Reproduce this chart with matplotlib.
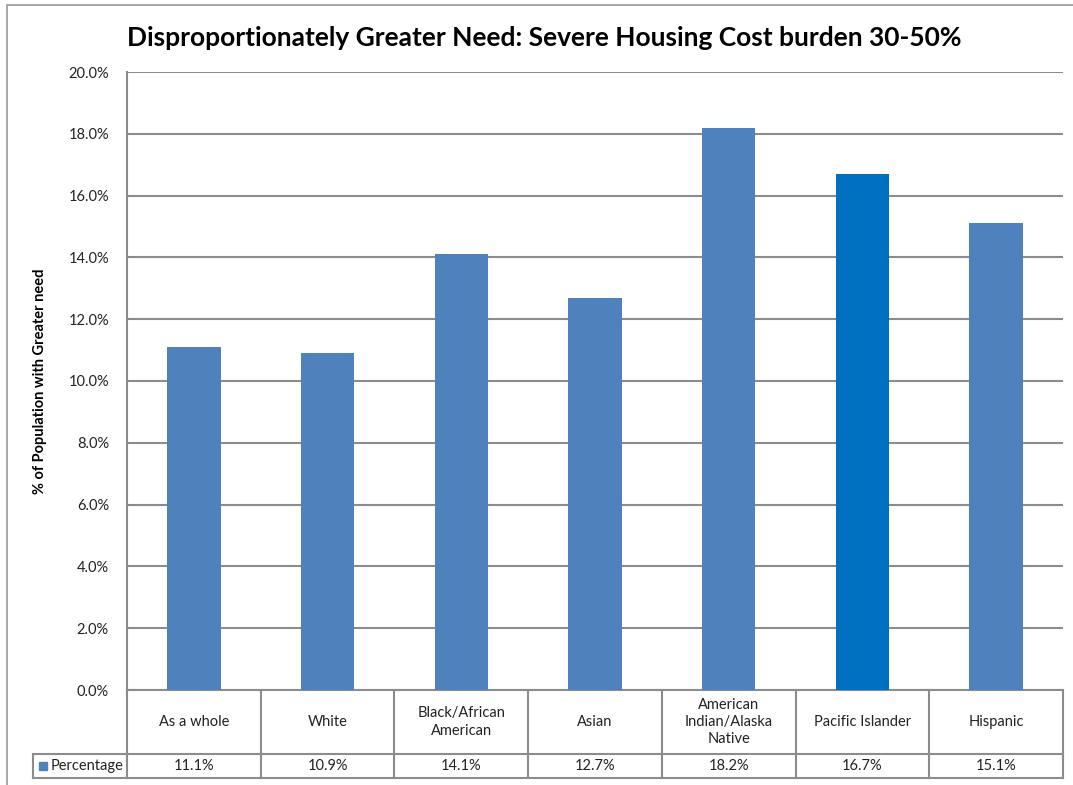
import matplotlib
matplotlib.use('Agg')
import matplotlib.pyplot as plt
from matplotlib.lines import Line2D
from matplotlib.patches import Rectangle
import numpy as np

# Share of each group with severe housing cost burden (30-50% AMI)
categories = ['As a whole', 'White', 'Black/African\nAmerican', 'Asian',
              'American\nIndian/Alaska\nNative', 'Pacific Islander', 'Hispanic']
percentages = [11.1, 10.9, 14.1, 12.7, 18.2, 16.7, 15.1]
series_name = 'Percentage'
y_ticks = [0, 2, 4, 6, 8, 10, 12, 14, 16, 18, 20]

bar_color = '#4F81BD'
highlight_color = '#0070C0'
grid_color = '#8C8C8C'
colors = [highlight_color if c == 'Pacific Islander' else bar_color for c in categories]

plt.rcParams['font.family'] = ['Lato', 'DejaVu Sans']

W, H = 1073, 785
fig = plt.figure(figsize=(W / 100, H / 100), dpi=100)

# plot area in pixels
left, right, top, bottom = 127, 1063, 72, 690
ax = fig.add_axes([left / W, 1 - bottom / H, (right - left) / W, (bottom - top) / H])

x = np.arange(len(categories))
ax.bar(x, percentages, width=0.40, color=colors, zorder=3)
ax.set_xlim(-0.5, len(categories) - 0.5)
ax.set_ylim(0, 20)
ax.set_yticks(y_ticks)
ax.set_yticklabels([f'{v:.1f}%' for v in y_ticks], fontsize=10.5, color='#222222')
ax.tick_params(axis='y', length=0, pad=13)
ax.set_xticks([])
ax.grid(axis='y', color=grid_color, linewidth=1.5, zorder=0)
for s in ['top', 'right', 'bottom']:
    ax.spines[s].set_visible(False)
ax.spines['left'].set_color(grid_color)
ax.spines['left'].set_linewidth(1.5)

ax.set_ylabel('% of Population with Greater need', fontsize=10.5, fontweight='bold',
              labelpad=15)

fig.text(544 / W, 1 - 38 / H,
         'Disproportionately Greater Need: Severe Housing Cost burden 30-50%',
         ha='center', va='center', fontsize=19, fontweight='bold')

# data table under the axis
tr = ax.get_xaxis_transform()
ph = bottom - top
row1 = -(754 - bottom) / ph
row2 = -(778 - bottom) / ph
col_w = (right - left) / len(categories)
leg_left = -0.5 - (left - 33) / col_w
n = len(categories)

def hline(x0, x1, y):
    ax.add_line(Line2D([x0, x1], [y, y], transform=tr, color=grid_color,
                       linewidth=1.5, clip_on=False))

def vline(xv, y0, y1):
    ax.add_line(Line2D([xv, xv], [y0, y1], transform=tr, color=grid_color,
                       linewidth=1.5, clip_on=False))

hline(-0.5, n - 0.5, 0)
hline(leg_left, n - 0.5, row1)
hline(leg_left, n - 0.5, row2)
for i in range(n + 1):
    vline(i - 0.5, 0, row2)
vline(leg_left, row1, row2)

for i, (cat, val) in enumerate(zip(categories, percentages)):
    ax.text(i, row1 / 2, cat, transform=tr, ha='center', va='center',
            fontsize=10.5, linespacing=1.3, color='#222222')
    ax.text(i, (row1 + row2) / 2, f'{val:.1f}%', transform=tr, ha='center',
            va='center', fontsize=10.5, color='#222222')

# legend key inside the table
ax.add_patch(Rectangle((leg_left + 0.045, (row1 + row2) / 2 - 0.007), 0.06, 0.014,
                       transform=tr, color=bar_color, clip_on=False))
ax.text(leg_left + 0.13, (row1 + row2) / 2, series_name, transform=tr,
        ha='left', va='center', fontsize=10.5, color='#222222')

# chart border
fig.add_artist(Rectangle((7 / W, -0.01), 1.0, 1 - 5 / H + 0.01, transform=fig.transFigure,
                         fill=False, edgecolor='#9A9A9A', linewidth=1.2))

fig.savefig('out.png', dpi=100, facecolor='white')
